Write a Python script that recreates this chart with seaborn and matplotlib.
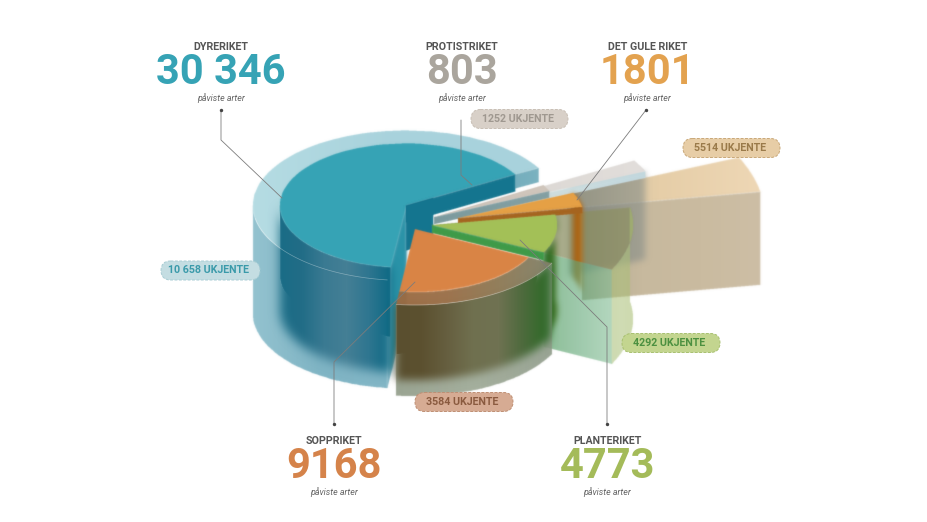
import numpy as np
import matplotlib
matplotlib.use("Agg")
import matplotlib.pyplot as plt
from matplotlib.patches import FancyBboxPatch
import seaborn as sns
from PIL import Image, ImageDraw, ImageFilter, ImageChops

# ---------- data ----------
kingdoms = ["DYRERIKET", "SOPPRIKET", "PLANTERIKET", "DET GULE RIKET", "PROTISTRIKET"]
known = [30346, 9168, 4773, 1801, 803]
known_labels = ["30 346", "9168", "4773", "1801", "803"]
unknown_labels = ["10 658 UKJENTE", "3584 UKJENTE", "4292 UKJENTE", "5514 UKJENTE", "1252 UKJENTE"]
subtitle = "påviste arter"

# ---------- style / layout ----------
W, H = 928, 522
sns.set_theme(style="white")
plt.rcParams["font.family"] = ["Roboto", "DejaVu Sans"]
fig = plt.figure(figsize=(W / 100, H / 100), dpi=100)
ax = fig.add_axes([0, 0, 1, 1])
ax.set_axis_off()

START = 30.0
ang = np.r_[0, np.cumsum(known)] / np.sum(known) * 360.0 + START
AN, FU, PL, YE, PR = [(ang[i], ang[i + 1]) for i in range(5)]

zc = [10]
def soft(pts, stops, alpha=1.0, blur=0.6, core=None):
    """Raster polygon with a horizontal colour gradient and soft edges."""
    pts = [tuple(map(float, p)) for p in pts]
    S = 3
    big = Image.new("L", (W * S, H * S), 0)
    ImageDraw.Draw(big).polygon([(x * S, y * S) for x, y in pts], fill=255)
    sharp = big.resize((W, H), Image.LANCZOS)
    m = sharp.filter(ImageFilter.GaussianBlur(blur)) if blur > 0 else sharp
    if core is not None:
        bigc = Image.new("L", (W * S, H * S), 0)
        ImageDraw.Draw(bigc).polygon([(float(x) * S, float(y) * S) for x, y in core], fill=255)
        c = bigc.resize((W, H), Image.LANCZOS).filter(ImageFilter.GaussianBlur(0.6))
        m = ImageChops.lighter(m, c)
    mask = np.asarray(m, dtype=float) / 255.0
    xs = [p[0] for p in pts]
    x0, x1 = int(min(xs)), int(max(xs)) + 1
    n = max(x1 - x0, 2)
    if isinstance(stops, str):
        stops = [stops, stops]
    pal = np.array(sns.blend_palette(stops, n_colors=n))
    idx = np.clip(np.arange(W) - x0, 0, n - 1)
    rgba = np.zeros((H, W, 4))
    rgba[:, :, :3] = pal[idx][None, :, :]
    rgba[:, :, 3] = mask * alpha
    zc[0] += 1
    ax.imshow(rgba, extent=(0, W, H, 0), interpolation="bilinear", zorder=zc[0], aspect="auto")

def pt(c, a, b, th):
    t = np.radians(th)
    return (c[0] + a * np.cos(t), c[1] - b * np.sin(t))

def arc(c, a, b, t1, t2, n=80):
    return [pt(c, a, b, t) for t in np.linspace(t1, t2, n)]

def sector(c, a, b, t1, t2):
    return [c] + arc(c, a, b, t1, t2)

def down(pts, h):
    return [(x, y + h) for x, y in pts]

def side(c, a, b, t1, t2, h):
    top = arc(c, a, b, t1, t2)
    return top + down(top, h)[::-1]

def face(c, a, b, th, h, frac=0.0):
    p0 = pt(c, a * frac, b * frac, th)
    p1 = pt(c, a, b, th)
    return [p0, p1, (p1[0], p1[1] + h), (p0[0], p0[1] + h)]

def ring(c, a1, b1, a2, b2, t1, t2):
    return arc(c, a1, b1, t1, t2) + arc(c, a2, b2, t1, t2)[::-1]

# ---------- Dyreriket ----------
C = (406, 205.5)
AO, BO, AI, BI = 153, 75, 126, 62
t1, t2 = AN
soft(side(C, AO, BO, 180, t2, 108), ["#93c2cf", "#7fb4c4", "#82b6c6"])
soft(face(C, AO, BO, t2, 108), "#82b6c6")
soft(sector(C, AO, BO, t1, t2), ["#b5dce3", "#a8d2dc", "#a9d3dd"])
soft(face(C, AO, BO, t1, 14, frac=AI / AO), ["#75aebd", "#7ab2c0"])
soft(face(C, AI, BI, t2, 103), "#2a93a8", blur=1.5)
soft(side(C, AI, BI, 180, t2, 105),
     ["#1a6c86", "#226d87", "#3a7a92", "#447f95", "#2f7690", "#0e6a85"],
     blur=5, core=side(C, AI, BI, 180, t2, 70))
soft(sector(C, AI, BI, t1, t2), "#36a3b5")
soft(face(C, AI, BI, t1, 17), "#14758f")
soft(face(C, AI * 0.25, BI * 0.25, t1, 45), "#14758f")
ax.plot(*zip(*arc(C, AO, BO, 190, t2)), color="white", lw=0.5, alpha=0.35, zorder=100)

# ---------- Det gule riket, glass ----------
CY = (458, 218)
t1, t2 = YE
soft(sector(CY, 307, 150, t1, t2), ["#bdb7a2", "#c9bf9f", "#e6cea8", "#eed7b5"], blur=0.7)
soft(face(CY, 307, 150, t1, 93, frac=126 / 307), ["#b3ab93", "#c7b99e", "#cabba0", "#cdbea5"], blur=0.7)

# ---------- Protistriket, glass ----------
CP = (434, 217)
t1p, t2p = PR
soft(face(CP, 231, 113, t1p, 88, frac=0.64), ["#6f7670", "#7d8580", "#8b918b"], alpha=0.62, blur=3)
soft(sector(CP, 231, 113, t1p, t2p), ["#d8d4cf", "#e2dedb"])
soft(face(CP, 231, 113, t1p, 6.5, frac=126 / 231), ["#cfdedf", "#c2d8de"])

# ---------- Planteriket, glass top ----------
CL = (432, 225)
t1l, t2l = PL
soft(sector(CL, 201, 100, t1l, t2l), ["#7f8a55", "#858a5c", "#8f9163"], alpha=0.72, blur=0.7)

# ---------- Yellow / protist inner ----------
soft(side(CY, 126, 62, t1, t2, 85), ["#a85f0e", "#b5660f"], alpha=0.95, blur=2.5)
soft(sector(CP, 126, 64, t1p, t2p), "#cfc5bb")
soft(face(CP, 126, 64, t1p, 7), ["#7b9a9e", "#84a0a3"])
soft(sector(CY, 126, 62, t1, t2), "#e5a045")
soft(face(CY, 126, 62, t1, 6), "#a5641f")

# ---------- Planteriket ----------
soft(face(CL, 201, 100, t1l, 94, frac=125 / 201), ["#449453", "#62a878", "#84be96"], alpha=0.62)
soft(side(CL, 201, 100, t1l, t2l, 94), ["#a9c078", "#adc27c", "#a9be74"], alpha=0.58)
soft(side(CL, 125, 61, t1l, t2l, 85), ["#276a1e", "#2f6a1f", "#3a6a18"], alpha=0.95, blur=3)
soft(sector(CL, 125, 61, t1l, t2l), "#a3c057")
soft(face(CL, 125, 61, t1l, 8), "#3f9a48")

# ---------- Soppriket ----------
C = (415, 229)
AO, BO, AI, BI = 153, 76, 127, 63
t1, t2 = FU
soft(side(C, AO, BO, t1, t2, 91), ["#8f9a86", "#9aa692", "#8e9a88"], alpha=0.9)
soft(side(C, AO * 0.985, BO, t1, t2, 75),
     ["#5a4f2f", "#5c5130", "#665f40", "#70704f", "#6f7252", "#4c6a3c", "#2c6a26"],
     blur=4, core=side(C, AO * 0.985, BO, t1, t2 - 9, 50))
soft(ring(C, AO, BO, AI, BI, t1, t2), ["#9b6b43", "#9a7049", "#8f7b57", "#82826a"], alpha=0.97)
soft(sector(C, AI, BI, t1, t2), "#d98445")
ax.plot(*zip(*arc(C, AO, BO, t1, t2)), color="white", lw=0.5, alpha=0.35, zorder=100)

# ---------- Leader lines ----------
leaders = [
    ([221, 221, 282], [110, 140, 198]),
    ([461, 461, 472], [120, 175, 185]),
    ([646, 577], [110, 200]),
    ([607, 607, 520], [424, 327, 240]),
    ([334, 334, 415], [424, 362, 282]),
]
for xs, ys in leaders:
    sns.lineplot(x=xs, y=ys, sort=False, estimator=None, color="#7c7c7c", lw=0.6, ax=ax, zorder=200)
sns.scatterplot(x=[221, 646, 607, 334], y=[110, 110, 424, 424], color="#444444", s=6, linewidth=0, ax=ax, zorder=201)

# ---------- Badges ----------
badges = [
    (161, 261, 99, 19, "#c4dde2", "#a9cdd4", "#3a9aaa"),
    (415, 392.5, 98, 19, "#d6ab93", "#bf8f74", "#8a5a3f"),
    (622, 333.5, 98, 19, "#c3d58f", "#a8c070", "#4c9040"),
    (683, 138.5, 97, 19, "#e7cda6", "#c9a878", "#9a7a4a"),
    (471, 109.5, 97, 19, "#d8d0c8", "#c8bfb5", "#9f9890"),
]
for (x, y, w, h, bg, ec, tc), lab in zip(badges, unknown_labels):
    ax.add_patch(FancyBboxPatch((x, y), w, h, boxstyle="round,pad=0,rounding_size=9.5",
                                fc=bg, ec=ec, lw=0.7, ls=(0, (3, 1.5)), zorder=300))
    ax.text(x + w / 2 - 1.5, y + h / 2 - 0.3, lab, ha="center", va="center", fontsize=7.7,
            fontweight="bold", color=tc, zorder=301)

# ---------- Headline labels ----------
heads = [
    (221, 47, "#36a3b5"),
    (334, 441, "#d5834a"),
    (607.5, 441, "#a4bb59"),
    (647.5, 47, "#e3a24f"),
    (462, 47, "#aaa59d"),
]
for (x, y, col), name, num in zip(heads, kingdoms, known_labels):
    ax.text(x, y, name, ha="center", va="center", fontsize=7.7, fontweight="bold", color="#555555", zorder=310)
    ax.text(x, y + 26, num, ha="center", va="center", fontsize=30, fontweight="bold", color=col, zorder=310)
    ax.text(x, y + 51, subtitle, ha="center", va="center", fontsize=6.4, style="italic", color="#666666", zorder=310)

ax.set_xlim(0, W)
ax.set_ylim(H, 0)
fig.savefig("out.png", dpi=100, facecolor="white")
